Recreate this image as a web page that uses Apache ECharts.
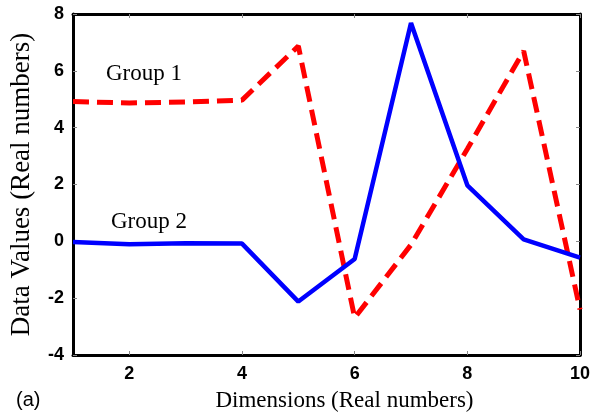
<!DOCTYPE html>
<html>
<head>
<meta charset="utf-8">
<script src="https://cdn.jsdelivr.net/npm/echarts@6/dist/echarts.min.js"></script>
<style>
  html, body { margin: 0; padding: 0; background: #fff; }
  #chart { width: 608px; height: 417px; }
</style>
</head>
<body>
<div id="chart"></div>
<script>
// dimensions 1..10
const dims = [1, 2, 3, 4, 5, 6, 7, 8, 9, 10];
// Group 1 (red dashed)
const group1 = [4.92, 4.87, 4.9, 4.97, 6.87, -2.69, -0.12, 3.25, 6.7, -2.4];
// Group 2 (blue solid)
const group2 = [-0.02, -0.1, -0.07, -0.08, -2.12, -0.62, 7.68, 1.97, 0.07, -0.57];
const xTicks = [2, 4, 6, 8, 10];
const yMin = -4, yMax = 8, yStep = 2;

const chart = echarts.init(document.getElementById('chart'));

const tickStyle = { show: true, inside: true, length: 4, lineStyle: { color: '#888', width: 1 } };
const lineStyle = { show: true, onZero: false, lineStyle: { color: '#000', width: 3 } };
const labelFont = { fontFamily: 'Liberation Sans, Arial', fontWeight: 'bold', fontSize: 18, color: '#000' };
const serif = 'Liberation Serif, Times New Roman';

const option = {
  animation: false,
  grid: { left: 68, right: 28, top: 14, bottom: 56 },
  xAxis: [
    {
      type: 'value', min: 1, max: 10, position: 'bottom',
      axisLine: lineStyle,
      axisTick: Object.assign({ customValues: xTicks }, tickStyle),
      axisLabel: Object.assign({ customValues: xTicks, margin: 10 }, labelFont),
      splitLine: { show: false },
      name: 'Dimensions (Real numbers)', nameLocation: 'middle', nameGap: 34,
      nameTextStyle: { fontFamily: serif, fontSize: 23, color: '#000', padding: [0, 0, 0, 36] }
    },
    {
      type: 'value', min: 1, max: 10, position: 'top',
      axisLine: lineStyle,
      axisTick: Object.assign({ customValues: xTicks }, tickStyle),
      axisLabel: { show: false },
      splitLine: { show: false }
    }
  ],
  yAxis: [
    {
      type: 'value', min: yMin, max: yMax, interval: yStep, position: 'left',
      axisLine: lineStyle,
      axisTick: tickStyle,
      axisLabel: Object.assign({ margin: 9 }, labelFont),
      splitLine: { show: false },
      name: 'Data Values (Real numbers)', nameLocation: 'middle', nameGap: 38,
      nameTextStyle: { fontFamily: serif, fontSize: 27, color: '#000' }
    },
    {
      type: 'value', min: yMin, max: yMax, interval: yStep, position: 'right',
      axisLine: lineStyle,
      axisTick: tickStyle,
      axisLabel: { show: false },
      splitLine: { show: false }
    }
  ],
  series: [
    {
      name: 'Group 1', type: 'line', showSymbol: false,
      data: dims.map((d, i) => [d, group1[i]]),
      lineStyle: { color: '#ff0000', width: 5, type: [16, 8] },
      z: 3
    },
    {
      name: 'Group 2', type: 'line', showSymbol: false,
      data: dims.map((d, i) => [d, group2[i]]),
      lineStyle: { color: '#0000ff', width: 4.5 },
      z: 4
    }
  ],
  graphic: [
    { type: 'text', left: 106, top: 62, style: { text: 'Group 1', font: '23px ' + serif, fill: '#000' } },
    { type: 'text', left: 111, top: 210, style: { text: 'Group 2', font: '23px ' + serif, fill: '#000' } },
    { type: 'text', left: 16, top: 390, style: { text: '(a)', font: '20px Liberation Sans, Arial', fill: '#000' } }
  ]
};

chart.setOption(option);
</script>
</body>
</html>
